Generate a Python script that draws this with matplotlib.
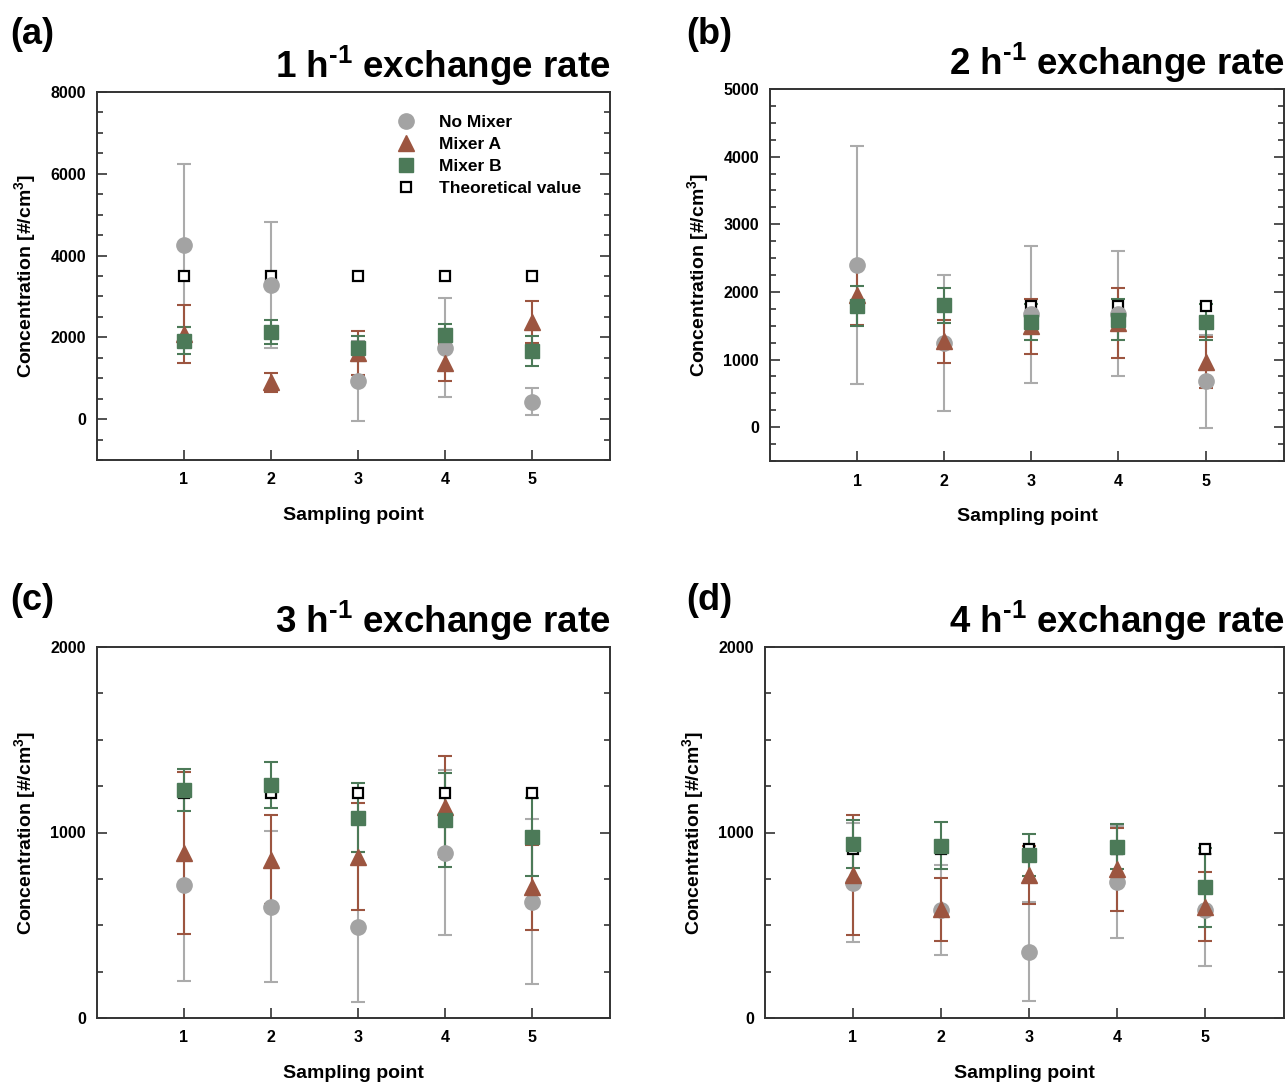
import matplotlib.pyplot as plt
from matplotlib.lines import Line2D
from matplotlib.ticker import MultipleLocator

plt.rcParams['font.family'] = ['Liberation Sans', 'DejaVu Sans']
plt.rcParams['font.weight'] = 'bold'
plt.rcParams['mathtext.fontset'] = 'custom'
plt.rcParams['mathtext.rm'] = 'Liberation Sans:bold'
plt.rcParams['mathtext.bf'] = 'Liberation Sans:bold'
plt.rcParams['mathtext.default'] = 'bf'

points = [1, 2, 3, 4, 5]

# (a) 1 h-1
nomix_a = [4250, 3280, 930, 1750, 430]
nomix_a_err = [2000, 1540, 980, 1200, 330]
mixa_a = [2080, 900, 1610, 1380, 2370]
mixa_a_err = [710, 230, 540, 460, 510]
mixb_a = [1920, 2130, 1730, 2050, 1660]
mixb_a_err = [330, 290, 300, 270, 370]
theo_a = [3500, 3500, 3500, 3500, 3500]

# (b) 2 h-1
nomix_b = [2400, 1250, 1670, 1680, 680]
nomix_b_err = [1760, 1005, 1010, 925, 690]
mixa_b = [1960, 1270, 1490, 1540, 960]
mixa_b_err = [455, 320, 410, 520, 375]
mixb_b = [1790, 1800, 1550, 1590, 1550]
mixb_b_err = [300, 265, 265, 305, 265]
theo_b = [1790, 1790, 1790, 1790, 1790]

# (c) 3 h-1
nomix_c = [717, 600, 492, 891, 627]
nomix_c_err = [518, 408, 404, 444, 446]
mixa_c = [888, 852, 870, 1139, 704]
mixa_c_err = [436, 240, 289, 271, 230]
mixb_c = [1229, 1256, 1080, 1067, 978]
mixb_c_err = [115, 125, 187, 254, 210]
theo_c = [1215, 1215, 1215, 1215, 1215]

# (d) 4 h-1
nomix_d = [730, 582, 358, 735, 582]
nomix_d_err = [322, 242, 266, 302, 300]
mixa_d = [771, 586, 770, 801, 600]
mixa_d_err = [322, 170, 155, 222, 187]
mixb_d = [938, 929, 879, 924, 704]
mixb_d_err = [130, 125, 111, 120, 215]
theo_d = [911, 911, 911, 911, 911]

panels = [
    ('(a)', '1', nomix_a, nomix_a_err, mixa_a, mixa_a_err, mixb_a, mixb_a_err, theo_a,
     (-1000, 8000), 2000, 500),
    ('(b)', '2', nomix_b, nomix_b_err, mixa_b, mixa_b_err, mixb_b, mixb_b_err, theo_b,
     (-500, 5000), 1000, 250),
    ('(c)', '3', nomix_c, nomix_c_err, mixa_c, mixa_c_err, mixb_c, mixb_c_err, theo_c,
     (0, 2000), 1000, 250),
    ('(d)', '4', nomix_d, nomix_d_err, mixa_d, mixa_d_err, mixb_d, mixb_d_err, theo_d,
     (0, 2000), 1000, 250),
]

W, H = 1287, 1084
# axes boxes in pixels: left, top, right, bottom
boxes = [(97, 92, 610, 460), (770, 89, 1284, 461),
         (97, 647, 610, 1018), (765, 647, 1284, 1018)]
# panel letter positions in pixels: left, baseline
letter_pos = [(10, 44), (686, 44), (10, 610), (686, 610)]

gray = '#a3a3a3'
gray_bar = '#ababab'
red = '#9c5540'
green = '#4c7a58'
spine_c = '#333333'

fig = plt.figure(figsize=(W / 100, H / 100), dpi=100)

for (lab, rate, nm, nme, ma, mae, mb, mbe, th, ylim, major, minor), box, lp in zip(panels, boxes, letter_pos):
    l, t, r, b = box
    ax = fig.add_axes([l / W, 1 - b / H, (r - l) / W, (b - t) / H])
    ekw = dict(capsize=5, elinewidth=1.5, capthick=1.5, linestyle='none')
    ax.errorbar(points, nm, yerr=nme, marker='o', ms=11, color=gray, ecolor=gray_bar, **ekw)
    ax.errorbar(points, ma, yerr=mae, marker='^', ms=11, color=red, ecolor=red, **ekw)
    ax.errorbar(points, mb, yerr=mbe, marker='s', ms=10, color=green, ecolor=green, **ekw)
    ax.plot(points, th, linestyle='none', marker='s', ms=7.5, mfc='white', mec='black', mew=1.6)

    ax.set_xlim(0, 5.9)
    ax.set_ylim(*ylim)
    ax.set_xticks(points)
    ax.yaxis.set_major_locator(MultipleLocator(major))
    ax.yaxis.set_minor_locator(MultipleLocator(minor))
    ax.tick_params(axis='y', which='both', direction='in', left=True, right=True,
                   color=spine_c, width=1.2)
    ax.tick_params(axis='y', which='major', length=7, pad=8, labelsize=11.5)
    ax.tick_params(axis='y', which='minor', length=4)
    ax.tick_params(axis='x', which='both', direction='in', top=False, length=7,
                   width=1.2, color=spine_c, pad=9, labelsize=11.5)
    for s in ax.spines.values():
        s.set_linewidth(1.4)
        s.set_color(spine_c)
    for tl in ax.get_xticklabels() + ax.get_yticklabels():
        tl.set_fontweight('bold')

    ax.set_xlabel('Sampling point', fontsize=14, fontweight='bold', labelpad=14)
    ax.set_ylabel(r'Concentration [#/cm$^{3}$]', fontsize=14, fontweight='bold', labelpad=9)
    ax.set_title(rate + r' h$^{\text{-1}}$ exchange rate', loc='right', fontsize=26.5,
                 fontweight='bold', pad=10)
    fig.text(lp[0] / W, 1 - lp[1] / H, lab, fontsize=26, fontweight='bold',
             ha='left', va='baseline')

    if lab == '(a)':
        handles = [
            Line2D([], [], linestyle='none', marker='o', ms=11, color=gray),
            Line2D([], [], linestyle='none', marker='^', ms=11, color=red),
            Line2D([], [], linestyle='none', marker='s', ms=10, color=green),
            Line2D([], [], linestyle='none', marker='s', ms=7.5, mfc='white', mec='black', mew=1.6),
        ]
        ax.legend(handles, ['No Mixer', 'Mixer A', 'Mixer B', 'Theoretical value'],
                  loc='upper right', bbox_to_anchor=(0.965, 0.965), frameon=False,
                  prop={'weight': 'bold', 'size': 12.5}, handletextpad=0.9,
                  labelspacing=0.38, borderaxespad=0.2)

fig.savefig('out.png', dpi=100)
